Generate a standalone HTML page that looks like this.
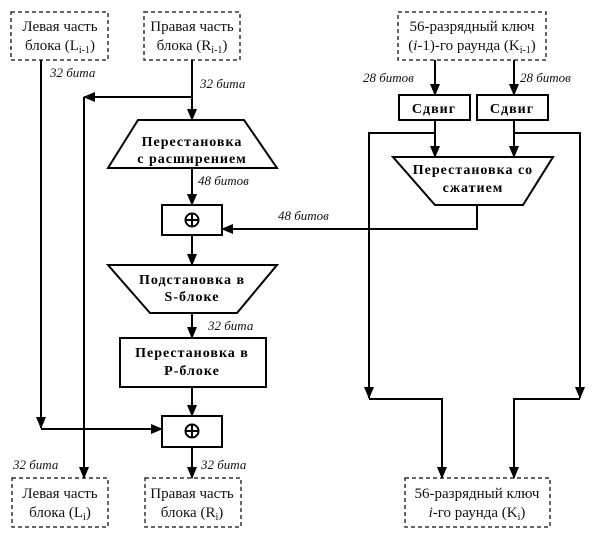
<!DOCTYPE html>
<html><head><meta charset="utf-8"><style>
html,body{margin:0;padding:0;background:#fff;}
svg{display:block;}
.t{font-family:"Liberation Serif","DejaVu Serif",serif;font-size:15px;fill:#111;}
.b{font-family:"Liberation Serif","DejaVu Serif",serif;font-size:14px;font-weight:bold;fill:#000;letter-spacing:1px;}
.i{font-family:"Liberation Serif","DejaVu Serif",serif;font-size:13px;font-style:italic;fill:#111;}
</style></head><body>
<svg width="606" height="533" viewBox="0 0 606 533" xmlns="http://www.w3.org/2000/svg">
<defs><marker id="a" markerWidth="12" markerHeight="12" refX="11" refY="6" orient="auto" markerUnits="userSpaceOnUse"><path d="M0,1 L12,6 L0,11 z" fill="#000"/></marker></defs>
<g fill="none" stroke="#333" stroke-width="1.5" stroke-dasharray="4,3">
<rect x="11" y="12" width="97" height="48"/>
<rect x="144" y="12" width="96" height="48"/>
<rect x="398" y="12" width="148" height="48"/>
<rect x="12" y="478" width="96" height="49"/>
<rect x="145" y="478" width="96" height="49"/>
<rect x="405" y="478" width="145" height="49"/>
</g>
<g fill="#fff" stroke="#000" stroke-width="2">
<polygon points="138,120 244,120 277,168 108,168"/>
<rect x="162" y="205" width="60" height="30"/>
<polygon points="108,265 277,265 237,313 150,313"/>
<rect x="120" y="338" width="146" height="49"/>
<rect x="162" y="416" width="60" height="31"/>
<rect x="399" y="95" width="71" height="25"/>
<rect x="477" y="95" width="71" height="25"/>
<polygon points="393,157 553,157 523,205 435,205"/>
</g>
<g stroke="#000" stroke-width="2" fill="none" marker-end="url(#a)">
<path d="M41,60 V428"/>
<path d="M41,429 H162"/>
<path d="M192,97 H84"/>
<path d="M84,97 V478"/>
<path d="M192,60 V120"/>
<path d="M192,168 V205"/>
<path d="M477,205 V229 H222"/>
<path d="M192,235 V265"/>
<path d="M192,313 V338"/>
<path d="M192,387 V416"/>
<path d="M192,447 V478"/>
<path d="M435,60 V95"/>
<path d="M514,60 V95"/>
<path d="M435,120 V157"/>
<path d="M514,120 V157"/>
<path d="M435,133 H369 V398"/>
<path d="M514,133 H580 V398"/>
<path d="M369,399 H442 V478"/>
<path d="M580,399 H514 V478"/>
</g>
<g stroke="#000" stroke-width="2" fill="none">
<circle cx="192" cy="220" r="6.5"/><path d="M185.5,220 H198.5 M192,213.5 V226.5"/>
<circle cx="192" cy="431" r="6.5"/><path d="M185.5,431 H198.5 M192,424.5 V437.5"/>
</g>
<text class="t" x="60" y="31" text-anchor="middle">Левая часть</text>
<text class="t" x="60" y="50" text-anchor="middle">блока (L<tspan font-size="10" dy="3">i-1</tspan><tspan dy="-3">)</tspan></text>
<text class="t" x="192" y="31" text-anchor="middle">Правая часть</text>
<text class="t" x="192" y="50" text-anchor="middle">блока (R<tspan font-size="10" dy="3">i-1</tspan><tspan dy="-3">)</tspan></text>
<text class="t" x="472" y="31" text-anchor="middle">56-разрядный ключ</text>
<text class="t" x="472" y="50" text-anchor="middle">(<tspan font-style="italic">i</tspan>-1)-го раунда (K<tspan font-size="10" dy="3">i-1</tspan><tspan dy="-3">)</tspan></text>
<text class="t" x="60" y="498" text-anchor="middle">Левая часть</text>
<text class="t" x="60" y="517" text-anchor="middle">блока (L<tspan font-size="10" dy="3">i</tspan><tspan dy="-3">)</tspan></text>
<text class="t" x="192" y="498" text-anchor="middle">Правая часть</text>
<text class="t" x="192" y="517" text-anchor="middle">блока (R<tspan font-size="10" dy="3">i</tspan><tspan dy="-3">)</tspan></text>
<text class="t" x="477" y="498" text-anchor="middle">56-разрядный ключ</text>
<text class="t" x="477" y="517" text-anchor="middle"><tspan font-style="italic">i</tspan>-го раунда (K<tspan font-size="10" dy="3">i</tspan><tspan dy="-3">)</tspan></text>
<text class="b" x="192" y="146" text-anchor="middle">Перестановка</text>
<text class="b" x="192" y="163" text-anchor="middle">с расширением</text>
<text class="b" x="192" y="284" text-anchor="middle">Подстановка в</text>
<text class="b" x="192" y="301" text-anchor="middle">S-блоке</text>
<text class="b" x="192" y="357" text-anchor="middle">Перестановка в</text>
<text class="b" x="192" y="375" text-anchor="middle">P-блоке</text>
<text class="b" x="434" y="113" text-anchor="middle">Сдвиг</text>
<text class="b" x="512" y="113" text-anchor="middle">Сдвиг</text>
<text class="b" x="473" y="174" text-anchor="middle">Перестановка со</text>
<text class="b" x="473" y="192" text-anchor="middle">сжатием</text>
<text class="i" x="50" y="77">32 бита</text>
<text class="i" x="200" y="88">32 бита</text>
<text class="i" x="198" y="185">48 битов</text>
<text class="i" x="278" y="220">48 битов</text>
<text class="i" x="208" y="330">32 бита</text>
<text class="i" x="13" y="469">32 бита</text>
<text class="i" x="201" y="469">32 бита</text>
<text class="i" x="363" y="82">28 битов</text>
<text class="i" x="520" y="82">28 битов</text>
</svg>
</body></html>
